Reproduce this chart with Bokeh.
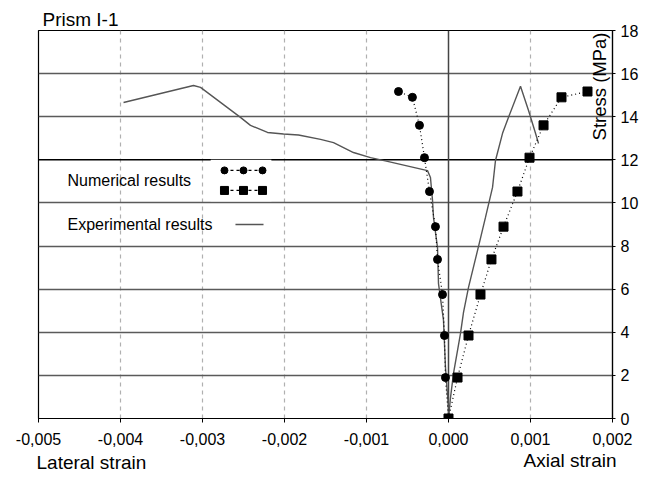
from bokeh.plotting import figure
from bokeh.models import FixedTicker, Label, Span, Title
from bokeh.embed import file_html
from bokeh.resources import INLINE
import math

# ---- data ----
num_lat_x = [0.0, -0.000037, -0.000049, -0.000073, -0.000134, -0.000159, -0.000232, -0.000293, -0.000354, -0.00044, -0.00061]
num_lat_y = [0.0, 1.9, 3.85, 5.75, 7.38, 8.9, 10.53, 12.1, 13.6, 14.9, 15.17]

num_ax_x = [0.0, 0.00011, 0.000244, 0.00039, 0.000524, 0.000671, 0.000841, 0.000988, 0.001159, 0.001378, 0.001695]
num_ax_y = [0.0, 1.9, 3.85, 5.75, 7.38, 8.9, 10.53, 12.1, 13.6, 14.9, 15.17]

exp_lat_x = [0.0, 0.0, -0.000037, -0.000061, -0.000122, -0.000134, -0.000183, -0.000195, -0.00022, -0.000256,
             -0.000744, -0.000951, -0.001159, -0.001402, -0.00156, -0.001829, -0.002012, -0.002207, -0.002415,
             -0.002537, -0.003024, -0.00311, -0.003963]
exp_lat_y = [0.0, 0.5, 2.37, 4.55, 6.26, 7.93, 9.33, 10.12, 11.18, 11.5,
             11.93, 12.1, 12.34, 12.8, 12.95, 13.15, 13.2, 13.27, 13.6,
             13.97, 15.36, 15.45, 14.66]

exp_ax_x = [0.0, 0.0000244, 0.000061, 0.000146, 0.000183, 0.000244, 0.000378, 0.000451, 0.000537, 0.000573,
            0.000659, 0.000732, 0.000878, 0.000976, 0.001061, 0.001098]
exp_ax_y = [0.0, 0.97, 2.09, 3.94, 4.92, 6.08, 8.17, 9.33, 10.72, 11.97,
            13.23, 13.97, 15.41, 14.29, 13.23, 12.76]

x_ticks = [-0.005, -0.004, -0.003, -0.002, -0.001, 0.0, 0.001, 0.002]
x_tick_labels = ["-0,005", "-0,004", "-0,003", "-0,002", "-0,001", "0,000", "0,001", "0,002"]
y_ticks = [0, 2, 4, 6, 8, 10, 12, 14, 16, 18]

FONT = "Liberation Sans"
GRID = "#5a5a5a"

p = figure(width=653, height=492, output_backend="svg", toolbar_location=None,
           x_range=(-0.005, 0.002), y_range=(0, 18), y_axis_location="right",
           min_border_left=38, min_border_right=41, min_border_top=30, min_border_bottom=74)
p.background_fill_color = "white"
p.border_fill_color = "white"
p.outline_line_color = "black"
p.outline_line_width = 1.2

# title
p.title.text = "Prism I-1"
p.title.text_font = FONT
p.title.text_font_size = "19px"
p.title.text_font_style = "normal"
p.title.text_color = "black"
p.title.offset = 4
p.title.standoff = 2

# axes
p.xaxis.ticker = FixedTicker(ticks=x_ticks)
p.xaxis.major_label_overrides = dict(zip(x_ticks, x_tick_labels))
p.yaxis.ticker = FixedTicker(ticks=y_ticks)
for ax in (p.xaxis[0], p.yaxis[0]):
    ax.axis_line_color = "black"
    ax.axis_line_width = 1.2
    ax.major_tick_line_color = "black"
    ax.major_tick_in = 0
    ax.minor_tick_line_color = None
    ax.major_label_text_font = FONT
    ax.major_label_text_font_size = "16px"
    ax.major_label_text_color = "black"
p.xaxis.major_tick_out = 4
p.xaxis.major_label_standoff = 10
p.yaxis.major_tick_out = 3
p.yaxis.major_label_standoff = 5

# bottom labels (same row): left one, then right one pulled back up
t1 = Title(text="Lateral strain", align="left", vertical_align="top", offset=-2, standoff=8,
           text_font=FONT, text_font_size="19px", text_font_style="normal", text_color="black")
p.add_layout(t1, "below")
t2 = Title(text="Axial strain", align="right", vertical_align="top", offset=-4, standoff=-58,
           text_font=FONT, text_font_size="19px", text_font_style="normal", text_color="black")
p.add_layout(t2, "below")

# grids
p.xgrid.ticker = FixedTicker(ticks=[-0.004, -0.003, -0.002, -0.001, 0.001])
p.xgrid.grid_line_color = "#b0b0b0"
p.xgrid.grid_line_dash = "4 4"
p.xgrid.grid_line_width = 1.2
p.ygrid.ticker = FixedTicker(ticks=[2, 4, 6, 8, 10, 14, 16])
p.ygrid.grid_line_color = GRID
p.ygrid.grid_line_width = 1.5

p.add_layout(Span(location=12, dimension="width", line_color="black", line_width=1.5, level="underlay"))
p.add_layout(Span(location=0, dimension="height", line_color="#444444", line_width=1.5, level="underlay"))

# legend background box (covers grid line)
p.quad(left=[-0.0029], right=[-0.00216], bottom=[10.08], top=[12.0], fill_color="white", line_color=None)

# experimental curves
p.line(exp_lat_x, exp_lat_y, line_color="#555555", line_width=1.4)
p.line(exp_ax_x, exp_ax_y, line_color="#555555", line_width=1.4)

# numerical results
p.line(num_lat_x, num_lat_y, line_color="black", line_width=1.2, line_dash="1 3")
p.scatter(num_lat_x, num_lat_y, marker="circle", size=8, fill_color="black", line_color="black")
p.line(num_ax_x, num_ax_y, line_color="black", line_width=1.2, line_dash="1 3")
p.scatter(num_ax_x, num_ax_y, marker="square", size=9, fill_color="black", line_color="black")

# manual legend
lx = [-0.002732, -0.0025, -0.002268]
p.line(lx, [11.51] * 3, line_color="black", line_width=1.2, line_dash="3 3")
p.scatter(lx, [11.51] * 3, marker="circle", size=7, fill_color="black", line_color="black")
p.line(lx, [10.58] * 3, line_color="black", line_width=1.2, line_dash="3 3")
p.scatter(lx, [10.58] * 3, marker="square", size=8, fill_color="black", line_color="black")
p.line([-0.002598, -0.002256], [9.0, 9.0], line_color="#555555", line_width=1.4)

def lab(text, x, y, size, align="left", baseline="middle", angle=0.0):
    p.add_layout(Label(x=x, y=y, text=text, text_font=FONT, text_font_size=size,
                       text_align=align, text_baseline=baseline, text_color="black", angle=angle))

lab("Numerical results", -0.004646, 11.04, "16px")
lab("Experimental results", -0.004646, 9.0, "16px")
lab("Stress (MPa)", 0.00184, 12.9, "18.5px", align="left", baseline="middle", angle=math.pi / 2)

open("out.html", "w").write(file_html(p, INLINE))
